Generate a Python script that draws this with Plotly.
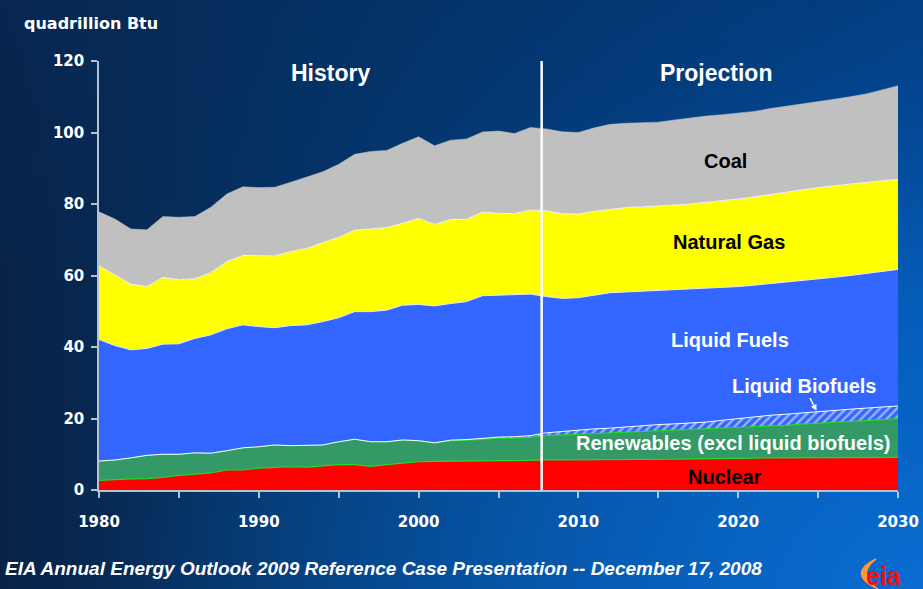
import base64
import plotly.graph_objects as go

years = list(range(1980, 2031))

nuclear = [2.7, 3.0, 3.1, 3.2, 3.5, 4.1, 4.4, 4.8, 5.6, 5.6,
           6.1, 6.4, 6.5, 6.4, 6.7, 7.1, 7.1, 6.6, 7.1, 7.6,
           7.9, 8.0, 8.1, 8.0, 8.2, 8.2, 8.2, 8.4,
           8.4, 8.4, 8.4, 8.4, 8.5, 8.5, 8.5, 8.6, 8.6, 8.7, 8.7, 8.8,
           8.9, 8.9, 9.0, 9.0, 9.0, 9.0, 9.0, 9.0, 9.0, 9.0, 9.1]

renewables = [5.4, 5.4, 5.9, 6.5, 6.5, 5.9, 6.0, 5.5, 5.4, 6.2,
              6.0, 6.2, 5.9, 6.2, 5.9, 6.4, 7.1, 6.9, 6.4, 6.4,
              5.8, 5.1, 5.7, 5.9, 6.1, 6.3, 6.3, 6.3,
              6.8, 7.0, 7.2, 7.3, 7.3, 7.5, 7.8, 7.9, 8.1, 8.1, 8.3, 8.4,
              8.5, 8.7, 8.9, 9.1, 9.4, 9.6, 9.9, 10.1, 10.4, 10.7, 10.9]

biofuels = [0, 0, 0, 0, 0, 0, 0, 0, 0, 0,
            0, 0, 0, 0, 0, 0, 0, 0, 0, 0,
            0.1, 0.1, 0.15, 0.2, 0.25, 0.3, 0.4, 0.5,
            0.8, 1.0, 1.3, 1.4, 1.5, 1.7, 1.8, 1.8, 1.8, 1.9, 2.0, 2.3,
            2.6, 2.8, 3.0, 3.1, 3.2, 3.3, 3.4, 3.5, 3.5, 3.5, 3.5]

liquids = [34.0, 32.0, 30.2, 29.9, 30.8, 30.9, 32.0, 33.1, 34.1, 34.4,
           33.6, 32.8, 33.6, 33.6, 34.5, 34.7, 35.7, 36.4, 36.8, 37.7,
           38.1, 38.3, 38.2, 38.6, 39.8, 39.7, 39.8, 39.6,
           38.1, 37.2, 36.9, 37.5, 37.9, 37.7, 37.5, 37.4, 37.4, 37.4, 37.3, 37.1,
           36.9, 36.9, 36.8, 36.9, 36.9, 37.1, 37.2, 37.4, 37.7, 37.9, 38.2]

natural_gas = [20.6, 19.7, 18.4, 17.3, 18.7, 17.9, 16.7, 17.4, 18.8, 19.4,
               19.8, 20.1, 20.7, 21.4, 22.1, 22.5, 22.8, 23.2, 23.1, 22.9,
               24.1, 22.8, 23.5, 23.0, 23.4, 22.9, 22.6, 23.5,
               24.0, 23.7, 23.4, 23.4, 23.4, 23.6, 23.6, 23.7, 23.7, 23.9, 24.2, 24.3,
               24.5, 24.7, 25.0, 25.2, 25.4, 25.6, 25.6, 25.6, 25.6, 25.4, 25.2]

coal = [15.1, 15.7, 15.4, 15.9, 17.0, 17.5, 17.4, 18.3, 18.9, 19.2,
        19.1, 19.2, 19.4, 20.0, 19.8, 20.4, 21.2, 21.6, 21.6, 22.4,
        22.8, 22.0, 22.2, 22.5, 22.4, 23.0, 22.4, 23.1,
        22.9, 22.9, 22.8, 23.3, 23.7, 23.6, 23.5, 23.5, 23.9, 24.1, 24.1, 24.1,
        24.0, 23.9, 24.0, 24.0, 24.1, 24.0, 24.2, 24.4, 24.6, 25.4, 26.2]

x_tickvals = [1980, 1985, 1990, 1995, 2000, 2005, 2010, 2015, 2020, 2025, 2030]
x_ticktext = ["1980", "", "1990", "", "2000", "", "2010", "", "2020", "", "2030"]
y_tickvals = [0, 20, 40, 60, 80, 100, 120]
history_end = 2007.7

W, H = 923, 589
ML, MR, MT, MB = 99, 25, 61, 99
PW, PH = W - ML - MR, H - MT - MB


def px(xp):
    return (xp - ML) / PW


def py(yp):
    return (H - MB - yp) / PH


svg = f'''<svg xmlns="http://www.w3.org/2000/svg" width="{W}" height="{H}" viewBox="0 0 {W} {H}" preserveAspectRatio="none">
<defs>
<linearGradient id="h" x1="0" y1="0" x2="1" y2="0">
<stop offset="0" stop-color="#082347"/>
<stop offset="0.45" stop-color="#033a74"/>
<stop offset="1" stop-color="#0150a6"/>
</linearGradient>
<radialGradient id="r" cx="1" cy="1" r="0.9">
<stop offset="0" stop-color="#0a6fd6" stop-opacity="0.9"/>
<stop offset="1" stop-color="#0a6fd6" stop-opacity="0"/>
</radialGradient>
<linearGradient id="v" x1="0" y1="0" x2="0" y2="1">
<stop offset="0" stop-color="#062a5a" stop-opacity="0.45"/>
<stop offset="0.5" stop-color="#062a5a" stop-opacity="0"/>
</linearGradient>
</defs>
<rect width="{W}" height="{H}" fill="url(#h)"/>
<rect width="{W}" height="{H}" fill="url(#r)"/>
<rect width="{W}" height="{H}" fill="url(#v)"/>
</svg>'''
bg_uri = "data:image/svg+xml;base64," + base64.b64encode(svg.encode()).decode()

fig = go.Figure()

layers = [
    ("Nuclear", nuclear, "#ff0000", "#22dd22", 1.2, None),
    ("Renewables", renewables, "#339966", "#22dd22", 1.2, None),
    ("Liquid Biofuels", biofuels, "#3366ff", "#ffffff", 1.0, "/"),
    ("Liquid Fuels", liquids, "#3366ff", "#e8ecff", 1.0, None),
    ("Natural Gas", natural_gas, "#ffff00", "#f4f4f4", 1.0, None),
    ("Coal", coal, "#c0c0c0", "#c0c0c0", 0.5, None),
]
for name, vals, fill, lcol, lw, pat in layers:
    kw = {}
    if pat:
        kw["fillpattern"] = dict(shape=pat, fgcolor="white", bgcolor=fill, size=6, solidity=0.4)
    fig.add_trace(go.Scatter(
        x=years, y=vals, name=name, mode="lines", stackgroup="one",
        fillcolor=fill, line=dict(color=lcol, width=lw), hoverinfo="skip", **kw))

fig.add_shape(type="line", xref="x", yref="y", x0=history_end, x1=history_end,
              y0=-1.8, y1=120, line=dict(color="white", width=2.5), layer="above")

bold20 = dict(family="Liberation Sans, Arial", size=20, weight="bold")
labels = [
    ("Coal", 2019.2, 92.0, "black"),
    ("Natural Gas", 2019.4, 69.4, "black"),
    ("Liquid Fuels", 2019.5, 42.0, "white"),
    ("Renewables (excl liquid biofuels)", 2019.7, 13.1, "white"),
    ("Nuclear", 2019.2, 3.6, "black"),
]
for text, x, y, col in labels:
    fig.add_annotation(x=x, y=y, xref="x", yref="y", text=text, showarrow=False,
                       font=dict(color=col, **bold20))

fig.add_annotation(x=2024.9, y=22.2, xref="x", yref="y", text="Liquid Biofuels",
                   showarrow=True, ax=-13, ay=-25, arrowcolor="white", arrowwidth=1.5,
                   arrowhead=2, arrowsize=0.8, font=dict(color="white", **bold20))

for text, x in [("History", 1994.5), ("Projection", 2018.6)]:
    fig.add_annotation(x=x, y=116.6, xref="x", yref="y", text=text, showarrow=False,
                       font=dict(family="Liberation Sans, Arial", size=23, weight="bold", color="white"))

fig.add_annotation(x=px(22), y=py(24), xref="paper", yref="paper", xanchor="left",
                   yanchor="middle", text="quadrillion Btu", showarrow=False,
                   font=dict(family="DejaVu Sans", size=16, weight="bold", color="white"))

fig.add_annotation(x=px(3), y=py(568), xref="paper", yref="paper", xanchor="left",
                   yanchor="middle",
                   text="EIA Annual Energy Outlook 2009 Reference Case Presentation -- December 17, 2008",
                   showarrow=False,
                   font=dict(family="Liberation Sans, Arial", size=19, weight="bold",
                             style="italic", color="white"))

# small EIA logo: orange swoosh + red letters
swoosh = (f"M {px(876)},{py(559)} Q {px(846)},{py(574)} {px(878)},{py(589)} "
          f"Q {px(856)},{py(574)} {px(876)},{py(559)} Z")
fig.add_shape(type="path", xref="paper", yref="paper", path=swoosh,
              fillcolor="#ff9a30", line=dict(color="#ff9a30", width=1.5), layer="below")
fig.add_annotation(x=px(884), y=py(576), xref="paper", yref="paper", text="eia",
                   showarrow=False, xanchor="center", yanchor="middle",
                   font=dict(family="Liberation Sans, Arial", size=25, weight="bold", color="#ee1111"))

axis_common = dict(showgrid=False, zeroline=False, showline=True, linecolor="#b8c2cc",
                   linewidth=1.5, ticks="outside", ticklen=6, tickcolor="#b8c2cc",
                   tickwidth=1.5, automargin=False,
                   tickfont=dict(family="DejaVu Sans", size=15, weight="bold", color="white"))

fig.update_layout(
    width=W, height=H, autosize=False,
    margin=dict(l=ML, r=MR, t=MT, b=MB, pad=0),
    paper_bgcolor="#0a2a50", plot_bgcolor="rgba(0,0,0,0)",
    showlegend=False, hovermode=False,
    images=[dict(source=bg_uri, xref="paper", yref="paper", x=-ML / PW, y=1 + MT / PH,
                 sizex=W / PW, sizey=H / PH, sizing="stretch", xanchor="left",
                 yanchor="top", layer="below")],
    xaxis=dict(range=[1980, 2030], tickvals=x_tickvals, ticktext=x_ticktext,
               ticklabelstandoff=11, **axis_common),
    yaxis=dict(range=[0, 120], tickvals=y_tickvals, ticklabelstandoff=4, **axis_common),
)

fig.write_html("out.html", config={"displayModeBar": False},
               post_script="document.body.style.margin='0';document.body.style.padding='0';"
                           "document.body.style.overflow='hidden';")
